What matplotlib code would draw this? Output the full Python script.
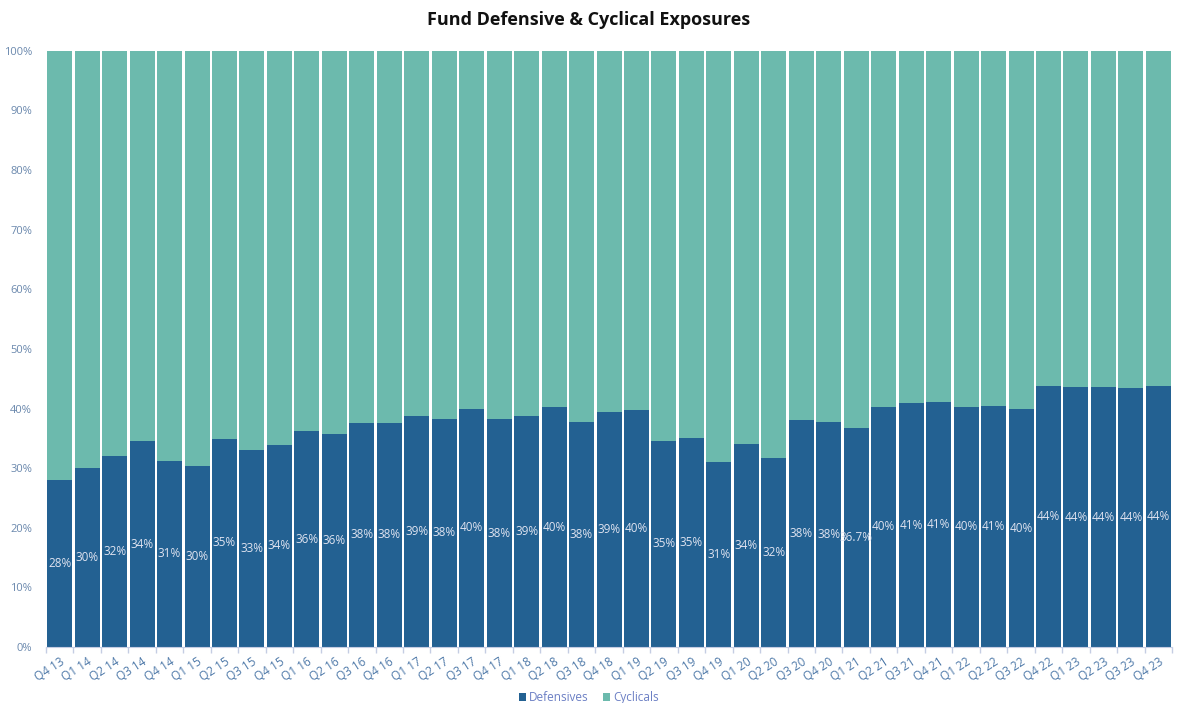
import numpy as np
import matplotlib.pyplot as plt

plt.rcParams['font.family'] = ['Open Sans', 'DejaVu Sans']

quarters = ['Q4 13',
            'Q1 14', 'Q2 14', 'Q3 14', 'Q4 14',
            'Q1 15', 'Q2 15', 'Q3 15', 'Q4 15',
            'Q1 16', 'Q2 16', 'Q3 16', 'Q4 16',
            'Q1 17', 'Q2 17', 'Q3 17', 'Q4 17',
            'Q1 18', 'Q2 18', 'Q3 18', 'Q4 18',
            'Q1 19', 'Q2 19', 'Q3 19', 'Q4 19',
            'Q1 20', 'Q2 20', 'Q3 20', 'Q4 20',
            'Q1 21', 'Q2 21', 'Q3 21', 'Q4 21',
            'Q1 22', 'Q2 22', 'Q3 22', 'Q4 22',
            'Q1 23', 'Q2 23', 'Q3 23', 'Q4 23']

defensives = [28.0, 30.0, 32.0, 34.5, 31.2, 30.3, 34.9, 33.1, 33.9, 36.2,
              35.7, 37.6, 37.6, 38.7, 38.3, 40.0, 38.2, 38.8, 40.2, 37.8,
              39.4, 39.8, 34.6, 35.1, 31.1, 34.1, 31.7, 38.0, 37.8, 36.7,
              40.3, 40.9, 41.1, 40.3, 40.5, 39.9, 43.7, 43.6, 43.6, 43.5, 43.7]

cyclicals = [72.0, 70.0, 68.0, 65.5, 68.8, 69.7, 65.1, 66.9, 66.1, 63.8,
             64.3, 62.4, 62.4, 61.3, 61.7, 60.0, 61.8, 61.2, 59.8, 62.2,
             60.6, 60.2, 65.4, 64.9, 68.9, 65.9, 68.3, 62.0, 62.2, 63.3,
             59.7, 59.1, 58.9, 59.7, 59.5, 60.1, 56.3, 56.4, 56.4, 56.5, 56.3]

def_labels = ['28%', '30%', '32%', '34%', '31%', '30%', '35%', '33%', '34%', '36%',
              '36%', '38%', '38%', '39%', '38%', '40%', '38%', '39%', '40%', '38%',
              '39%', '40%', '35%', '35%', '31%', '34%', '32%', '38%', '38%', '36.7%',
              '40%', '41%', '41%', '40%', '41%', '40%', '44%', '44%', '44%', '44%', '44%']

c_def = '#236192'
c_cyc = '#6cbaad'

fig = plt.figure(figsize=(11.78, 7.03), dpi=100)
ax = fig.add_axes([0.039, 0.0797, 0.956, 0.848])

x = np.arange(len(quarters))
b1 = ax.bar(x, defensives, width=0.91, color=c_def, label='Defensives')
b2 = ax.bar(x, cyclicals, width=0.91, bottom=defensives, color=c_cyc, label='Cyclicals')

# etiquetas no meio da parte escura
for xi, v, lab in zip(x, defensives, def_labels):
    ax.text(xi, v / 2, lab, ha='center', va='center', fontsize=8.5,
            color='#dfe3f0')

ax.set_xlim(-0.5, len(quarters) - 0.5)
ax.set_ylim(0, 100)
ax.set_yticks(np.arange(0, 101, 10))
ax.set_yticklabels([f'{t}%' for t in range(0, 101, 10)])
ax.tick_params(axis='y', length=0, labelsize=8, labelcolor='#6a88ad', pad=10)

ax.set_xticks(x)
ax.set_xticklabels(quarters, rotation=33, ha='right', rotation_mode='anchor')
ax.tick_params(axis='x', which='major', length=0, labelsize=8.5,
               labelcolor='#4d78a8', pad=6)
ax.set_xticks(np.arange(-0.5, len(quarters), 1), minor=True)
ax.tick_params(axis='x', which='minor', length=4, color='#c5cde3', width=1)

for s in ['top', 'right', 'left']:
    ax.spines[s].set_visible(False)
ax.spines['bottom'].set_color('#c5cde3')

fig.suptitle('Fund Defensive & Cyclical Exposures', y=0.985, fontsize=13,
             fontweight='bold', color='#111111')

leg = fig.legend(handles=[b1, b2], loc='lower center', bbox_to_anchor=(0.5, -0.017),
                 ncol=2, frameon=False, fontsize=8.5, handlelength=0.6,
                 handleheight=0.6, handletextpad=0.3, columnspacing=1.2)
for t in leg.get_texts():
    t.set_color('#6b7fc4')

fig.savefig('out.png', dpi=100)
